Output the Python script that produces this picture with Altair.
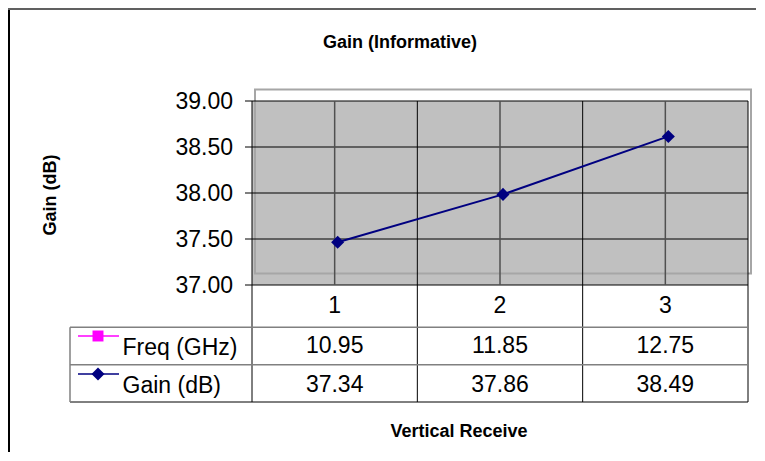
import altair as alt
import pandas as pd

# ---- values ----
categories = ["1", "2", "3"]
freq_ghz = [10.95, 11.85, 12.75]
gain_db = [37.34, 37.86, 38.49]
y_ticks = [37.0, 37.5, 38.0, 38.5, 39.0]

chart_title = "Gain (Informative)"
y_title = "Gain (dB)"
x_title = "Vertical Receive"
row_labels = ["Freq (GHz)", "Gain (dB)"]

# ---- layout / style ----
FONT = "Liberation Sans"
W = 496            # plot width (category area)
H = 301            # plot + data table height
PX_PER_UNIT = 92   # pixels per dB
Y_MAX = 39.0
Y_MIN = Y_MAX - H / PX_PER_UNIT
SERIES_DX, SERIES_DY = 3, -11.5
NAVY = "#000080"
PINK = "#ff00ff"
FS = 23

df = pd.DataFrame({"cat": categories, "freq": freq_ghz, "gain": gain_db})
ticks_df = pd.DataFrame({"v": y_ticks})
one = pd.DataFrame({"k": [0]})

xscale = alt.Scale(type="band", domain=categories, paddingInner=0, paddingOuter=0)
yscale = alt.Scale(domain=[Y_MIN, Y_MAX], nice=False, zero=False)


def X(bp=None):
    if bp is None:
        return alt.X("cat:O", scale=xscale, axis=None)
    return alt.X("cat:O", scale=xscale, axis=None, bandPosition=bp)


def Yv():
    return alt.Y("v:Q", scale=yscale, axis=None)


base = alt.Chart(df)

fill = base.mark_rect(color="#c0c0c0").encode(
    x=X(),
    y=alt.YDatum(37.0, type="quantitative", scale=yscale, axis=None),
    y2=alt.Y2Datum(39.0),
)

outline = alt.Chart(one).mark_rect(
    fillOpacity=0, stroke="#a6a6a6", strokeWidth=2,
    xOffset=SERIES_DX, x2Offset=SERIES_DX, yOffset=SERIES_DY, y2Offset=SERIES_DY,
).encode(
    x=alt.value(0), x2=alt.value(W),
    y=alt.YDatum(39.0, type="quantitative", scale=yscale, axis=None),
    y2=alt.Y2Datum(37.0),
)

# horizontal gridlines, y-axis ticks and tick labels from the y scale
ticks_chart = alt.Chart(ticks_df)
hgrid = ticks_chart.mark_rule(color="black", strokeWidth=1).encode(
    y=Yv(), x=alt.value(0), x2=alt.value(W))
yticks = ticks_chart.mark_rule(color="black", strokeWidth=1).encode(
    y=Yv(), x=alt.value(-7), x2=alt.value(0))
ylabels = ticks_chart.mark_text(font=FONT, fontSize=FS, color="black", align="right",
                                baseline="middle", dy=1).encode(
    y=Yv(), x=alt.value(-19), text=alt.Text("v:Q", format=".2f"))

edge_rules = base.mark_rule(color="black", strokeWidth=1).encode(
    x=X(0), y=alt.value(0), y2=alt.value(H),
)
right_edge = alt.Chart(one).mark_rule(color="black", strokeWidth=1).encode(
    x=alt.value(W), y=alt.value(0), y2=alt.value(H),
)
center_rules = base.mark_rule(color="#505050", strokeWidth=1.5).encode(
    x=X(0.5),
    y=alt.YDatum(37.0, type="quantitative", scale=yscale, axis=None),
    y2=alt.Y2Datum(39.0),
)

# data table structure
ROW1_BOTTOM = 226.3
ROW2_BOTTOM = 263.7
LEG_LEFT = -182
t_h1 = alt.Chart(one).mark_rule(color="#808080", strokeWidth=1.5).encode(
    x=alt.value(LEG_LEFT), x2=alt.value(W), y=alt.value(ROW1_BOTTOM))
t_h2 = alt.Chart(one).mark_rule(color="#808080", strokeWidth=1.5).encode(
    x=alt.value(LEG_LEFT), x2=alt.value(W), y=alt.value(ROW2_BOTTOM))
t_h3 = alt.Chart(one).mark_rule(color="black", strokeWidth=1).encode(
    x=alt.value(LEG_LEFT), x2=alt.value(W), y=alt.value(H))
t_v0 = alt.Chart(one).mark_rule(color="#808080", strokeWidth=1.5).encode(
    x=alt.value(LEG_LEFT), y=alt.value(ROW1_BOTTOM), y2=alt.value(H))

txt = dict(font=FONT, fontSize=FS, color="black", baseline="middle")
cat_text = base.mark_text(**txt).encode(x=X(0.5), y=alt.value(204.5), text="cat:N")
freq_text = base.mark_text(**txt).encode(
    x=X(0.5), y=alt.value(245), text=alt.Text("freq:Q", format=".2f"))
gain_text = base.mark_text(**txt).encode(
    x=X(0.5), y=alt.value(283.5), text=alt.Text("gain:Q", format=".2f"))

# legend keys in table
key_f_line = alt.Chart(one).mark_rule(color=PINK, strokeWidth=1.5).encode(
    x=alt.value(-174), x2=alt.value(-133), y=alt.value(235))
key_f_pt = alt.Chart(one).mark_point(shape="square", filled=True, size=120, color=PINK, opacity=1).encode(
    x=alt.value(-154), y=alt.value(235))
key_g_line = alt.Chart(one).mark_rule(color=NAVY, strokeWidth=1.5).encode(
    x=alt.value(-174), x2=alt.value(-133), y=alt.value(273))
key_g_pt = alt.Chart(one).mark_point(shape="diamond", filled=True, size=170, color=NAVY, opacity=1).encode(
    x=alt.value(-154), y=alt.value(273))

lbl_f = alt.Chart(pd.DataFrame({"t": [row_labels[0]]})).mark_text(align="left", **txt).encode(
    x=alt.value(-129.5), y=alt.value(247), text="t:N")
lbl_g = alt.Chart(pd.DataFrame({"t": [row_labels[1]]})).mark_text(align="left", **txt).encode(
    x=alt.value(-129.5), y=alt.value(285), text="t:N")

# series
series_line = base.mark_line(color=NAVY, strokeWidth=2, xOffset=SERIES_DX, yOffset=SERIES_DY).encode(
    x=X(0.5), y=alt.Y("gain:Q", scale=yscale, axis=None))
series_pts = base.mark_point(shape="diamond", filled=True, size=170, color=NAVY, opacity=1,
                             xOffset=SERIES_DX, yOffset=SERIES_DY).encode(
    x=X(0.5), y=alt.Y("gain:Q", scale=yscale, axis=None))

# titles
bold = dict(font=FONT, fontWeight="bold", fontSize=18, color="black", baseline="middle")
title_t = alt.Chart(pd.DataFrame({"t": [chart_title]})).mark_text(**bold).encode(
    x=alt.value(148), y=alt.value(-58), text="t:N")
ytitle_t = alt.Chart(pd.DataFrame({"t": [y_title]})).mark_text(angle=270, **bold).encode(
    x=alt.value(-201), y=alt.value(94), text="t:N")
xtitle_t = alt.Chart(pd.DataFrame({"t": [x_title]})).mark_text(**bold).encode(
    x=alt.value(207), y=alt.value(331), text="t:N")

# outer frame (top and left edges visible)
frame_l = alt.Chart(one).mark_rule(color="black", strokeWidth=2).encode(
    x=alt.value(-243), y=alt.value(-93), y2=alt.value(H + 50))
frame_t = alt.Chart(one).mark_rule(color="#606060", strokeWidth=2).encode(
    x=alt.value(-244), x2=alt.value(W + 8), y=alt.value(-92))

chart = alt.layer(
    fill, outline, hgrid, center_rules, edge_rules, right_edge,
    t_h1, t_h2, t_h3, t_v0, yticks, ylabels,
    cat_text, freq_text, gain_text,
    key_f_line, key_f_pt, key_g_line, key_g_pt, lbl_f, lbl_g,
    series_line, series_pts,
    title_t, ytitle_t, xtitle_t, frame_l, frame_t,
).properties(
    width=W, height=H,
    autosize=alt.AutoSizeParams(type="none"),
    padding={"left": 244, "top": 93, "right": 9, "bottom": 50},
    background="white",
).configure_view(strokeWidth=0)

chart.save("out.html", embed_options={"renderer": "svg", "actions": False})
